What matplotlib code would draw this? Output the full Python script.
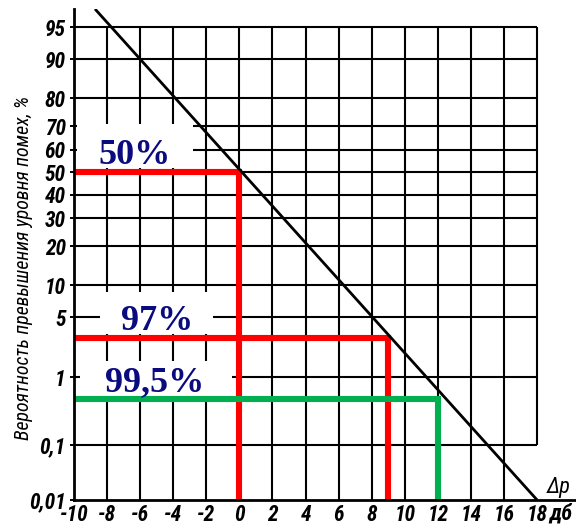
import math
import numpy as np
import matplotlib
matplotlib.use("Agg")
import matplotlib.pyplot as plt
from matplotlib.patches import Rectangle
from matplotlib.transforms import IdentityTransform
from matplotlib.ticker import NullLocator

# ---------------- data ----------------
x_ticks = [-10, -8, -6, -4, -2, 0, 2, 4, 6, 8, 10, 12, 14, 16, 18]
x_tick_labels = ["-10", "-8", "-6", "-4", "-2", "0", "2", "4", "6", "8",
                 "10", "12", "14", "16", "18"]
y_ticks = [95, 90, 80, 70, 60, 50, 40, 30, 20, 10, 5, 1, 0.1, 0.01]
y_tick_labels = ["95", "90", "80", "70", "60", "50", "40", "30", "20", "10",
                 "5", "1", "0,1", "0,01"]

# straight line on the probability scale (end points)
line_dp = [-8.73, 18.0]
line_prob = [96.8, 0.01]

# marked reliability levels
level_prob = [50, 3, 0.5]
level_dp = [0, 9, 12]
level_labels = ["50%", "97%", "99,5%"]
level_colors = ["#ff0000", "#ff0000", "#00b050"]

# ---------------- normal probability scale ----------------
def _ppf_scalar(p):
    a = [-3.969683028665376e+01, 2.209460984245205e+02, -2.759285104469687e+02,
         1.383577518672690e+02, -3.066479806614716e+01, 2.506628277459239e+00]
    b = [-5.447609879822406e+01, 1.615858368580409e+02, -1.556989798598866e+02,
         6.680131188771972e+01, -1.328068155288572e+01]
    c = [-7.784894002430293e-03, -3.223964580411365e-01, -2.400758277161838e+00,
         -2.549732539343734e+00, 4.374664141464968e+00, 2.938163982698783e+00]
    d = [7.784695709041462e-03, 3.224671290700398e-01, 2.445134137142996e+00,
         3.754408661907416e+00]
    plow = 0.02425
    phigh = 1 - plow
    if p < plow:
        q = math.sqrt(-2 * math.log(p))
        return (((((c[0]*q + c[1])*q + c[2])*q + c[3])*q + c[4])*q + c[5]) / \
               ((((d[0]*q + d[1])*q + d[2])*q + d[3])*q + 1)
    if p > phigh:
        q = math.sqrt(-2 * math.log(1 - p))
        return -(((((c[0]*q + c[1])*q + c[2])*q + c[3])*q + c[4])*q + c[5]) / \
                ((((d[0]*q + d[1])*q + d[2])*q + d[3])*q + 1)
    q = p - 0.5
    r = q * q
    return (((((a[0]*r + a[1])*r + a[2])*r + a[3])*r + a[4])*r + a[5]) * q / \
           (((((b[0]*r + b[1])*r + b[2])*r + b[3])*r + b[4])*r + 1)


_ppf_vec = np.vectorize(_ppf_scalar, otypes=[float])
_cdf_vec = np.vectorize(lambda z: 0.5 * (1 + math.erf(z / math.sqrt(2))), otypes=[float])


def prob_forward(p):
    p = np.clip(np.asarray(p, dtype=float) / 100.0, 1e-12, 1 - 1e-12)
    return _ppf_vec(p)


def prob_inverse(z):
    z = np.asarray(z, dtype=float)
    return 100.0 * _cdf_vec(z)


# ---------------- figure ----------------
W, H = 576, 526
fig = plt.figure(figsize=(W / 100, H / 100), dpi=100)
ax_left, ax_bottom, ax_top = 74, 500, 9
ax = fig.add_axes([ax_left / W, (H - ax_bottom) / H, (W - ax_left) / W,
                   (ax_bottom - ax_top) / H])

ax.set_yscale("function", functions=(prob_forward, prob_inverse))
px_per_db = 16.54
ax.set_xlim(-10, -10 + (W - ax_left) / px_per_db)
ax.set_ylim(0.01, 96.8)

label_font = ["Liberation Sans Narrow", "Roboto Condensed", "Open Sans Condensed",
              "DejaVu Sans"]
ax.set_yticks(y_ticks, labels=y_tick_labels)
ax.set_xticks(x_ticks, labels=x_tick_labels)
ax.yaxis.set_minor_locator(NullLocator())
ax.xaxis.set_minor_locator(NullLocator())
for lab in ax.get_yticklabels() + ax.get_xticklabels():
    lab.set_family(label_font)
    lab.set_stretch("condensed")
    lab.set_style("italic")
    lab.set_weight("bold")
    lab.set_fontsize(15.5)
ax.tick_params(axis="y", direction="out", length=3, width=1.4, pad=3, colors="black")
ax.tick_params(axis="x", length=0, pad=3)

for s in ["top", "right"]:
    ax.spines[s].set_visible(False)
for s in ["left", "bottom"]:
    ax.spines[s].set_linewidth(2.0)
    ax.spines[s].set_zorder(6)

# grid
grid_lw = 1.5
ax.hlines(y_ticks[:-1], x_ticks[0], x_ticks[-1], color="black", lw=grid_lw, zorder=1)
ax.vlines(x_ticks[1:-1], y_ticks[-1], y_ticks[0], color="black", lw=grid_lw, zorder=1)
ax.vlines(x_ticks[-1], y_ticks[-2], y_ticks[0], color="black", lw=grid_lw, zorder=1)

# main characteristic
ax.plot(line_dp, line_prob, color="black", lw=2.0, zorder=7, solid_capstyle="butt")

# level markers
for xv, pv, col in zip(level_dp, level_prob, level_colors):
    ax.plot([x_ticks[0], xv, xv], [pv, pv, y_ticks[-1]], color=col, lw=4.4,
            solid_joinstyle="miter", solid_capstyle="butt", zorder=5, clip_on=False)

# white label boxes + text (pixel geometry relative to each level line)
box_geom = [  # (x0, x1, top above line, bottom above line, text centre x)
    (77, 193, 48, 4, 135),
    (100, 213, 46, 4, 157),
    (80, 232, 38, 3, 155),
]
fig.canvas.draw()
for (x0, x1, top_off, bot_off, tx), pv, lab in zip(box_geom, level_prob, level_labels):
    _, yl = ax.transData.transform((0, pv))
    rect = Rectangle((x0, yl + bot_off), x1 - x0, top_off - bot_off,
                     facecolor="white", edgecolor="none",
                     transform=IdentityTransform(), zorder=3)
    ax.add_patch(rect)
    fig.text(tx / W, (yl + 8) / H, lab, ha="center", va="baseline",
             family=["Liberation Serif", "DejaVu Serif"], weight="bold",
             fontsize=26, color="#0b0b80", zorder=8)

# axis captions
fig.text(24 / W, 1 - 268 / H, "Вероятность превышения уровня помех, %",
         rotation=90, ha="center", va="center", family=label_font,
         stretch="condensed", style="italic", fontsize=14.3)
fig.text(559 / W, 1 - 487 / H, "Δp", ha="center", va="center",
         family=label_font, stretch="condensed", style="italic", fontsize=16)
fig.text(561 / W, 1 - 514 / H, "дб", ha="center", va="center",
         family=label_font, stretch="condensed", style="italic", weight="bold",
         fontsize=16)

fig.savefig("out.png", dpi=100, facecolor="white")
